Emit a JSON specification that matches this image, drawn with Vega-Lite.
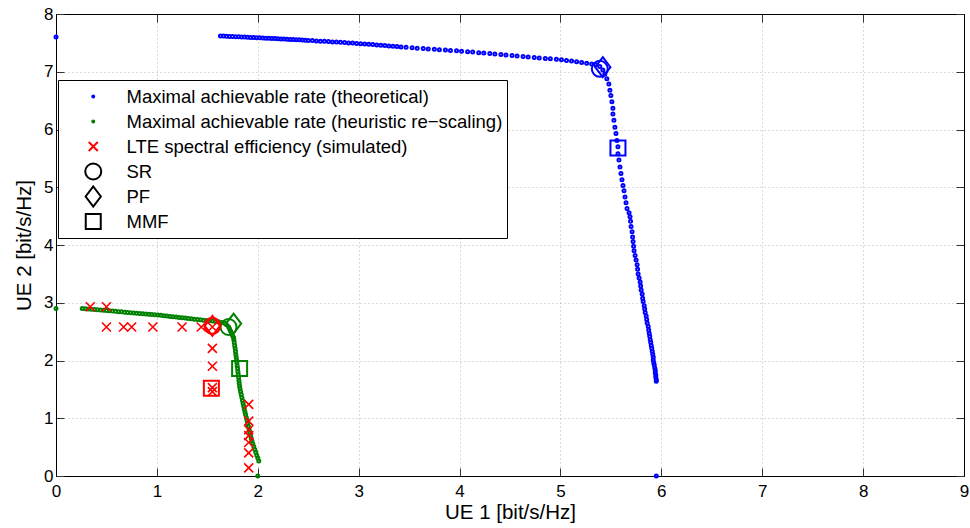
{
  "$schema": "https://vega.github.io/schema/vega-lite/v6.json",
  "width": 908,
  "height": 462,
  "autosize": {"type": "none"},
  "padding": {"left": 56, "top": 14, "right": 6, "bottom": 52},
  "background": "white",
  "config": {
    "view": {"stroke": "black", "strokeWidth": 1},
    "font": "Liberation Sans",
    "axis": {
      "domainColor": "black",
      "domainWidth": 1,
      "tickColor": "#333333",
      "tickSize": -8,
      "labelFont": "Liberation Sans",
      "labelFontSize": 17,
      "labelColor": "black",
      "labelFlush": false,
      "titleFont": "Liberation Sans",
      "titleFontSize": 20.5,
      "titleFontWeight": "normal",
      "titleColor": "black",
      "gridColor": "#b4b4b4",
      "gridDash": [1, 3],
      "gridWidth": 1
    },
    "legend": {
      "orient": "none",
      "legendX": 2,
      "legendY": 66,
      "strokeColor": "black",
      "strokeWidth": 1,
      "fillColor": "white",
      "padding": 4,
      "labelFont": "Liberation Sans",
      "labelFontSize": 18.5,
      "labelColor": "black",
      "labelLimit": 0,
      "clipHeight": 25,
      "rowPadding": 0,
      "symbolOffset": 22,
      "labelOffset": 24,
      "symbolStrokeWidth": 2,
      "cornerRadius": 0
    }
  },
  "resolve": {"axis": {"x": "independent", "y": "independent"}},
  "layer": [
    {
      "data": {"values": [
        {"s": "a", "x": 0, "y": 7.6}, {"s": "a", "x": 5.95, "y": 0},
        {"s": "a", "x": 1.63, "y": 7.62}, {"s": "a", "x": 1.66, "y": 7.617}, {"s": "a", "x": 1.69, "y": 7.615}, {"s": "a", "x": 1.72, "y": 7.612}, {"s": "a", "x": 1.75, "y": 7.61},
        {"s": "a", "x": 1.78, "y": 7.607}, {"s": "a", "x": 1.81, "y": 7.605}, {"s": "a", "x": 1.84, "y": 7.602}, {"s": "a", "x": 1.87, "y": 7.6}, {"s": "a", "x": 1.9, "y": 7.598},
        {"s": "a", "x": 1.93, "y": 7.595}, {"s": "a", "x": 1.96, "y": 7.593}, {"s": "a", "x": 1.99, "y": 7.59}, {"s": "a", "x": 2.02, "y": 7.588}, {"s": "a", "x": 2.05, "y": 7.585},
        {"s": "a", "x": 2.08, "y": 7.582}, {"s": "a", "x": 2.11, "y": 7.58}, {"s": "a", "x": 2.14, "y": 7.577}, {"s": "a", "x": 2.17, "y": 7.574}, {"s": "a", "x": 2.2, "y": 7.571},
        {"s": "a", "x": 2.23, "y": 7.569}, {"s": "a", "x": 2.26, "y": 7.566}, {"s": "a", "x": 2.29, "y": 7.563}, {"s": "a", "x": 2.32, "y": 7.56}, {"s": "a", "x": 2.35, "y": 7.558},
        {"s": "a", "x": 2.38, "y": 7.555}, {"s": "a", "x": 2.41, "y": 7.552}, {"s": "a", "x": 2.44, "y": 7.549}, {"s": "a", "x": 2.47, "y": 7.546}, {"s": "a", "x": 2.5, "y": 7.543},
        {"s": "a", "x": 2.54, "y": 7.539}, {"s": "a", "x": 2.58, "y": 7.534}, {"s": "a", "x": 2.62, "y": 7.53}, {"s": "a", "x": 2.66, "y": 7.526}, {"s": "a", "x": 2.7, "y": 7.522},
        {"s": "a", "x": 2.74, "y": 7.517}, {"s": "a", "x": 2.78, "y": 7.513}, {"s": "a", "x": 2.82, "y": 7.509}, {"s": "a", "x": 2.86, "y": 7.505}, {"s": "a", "x": 2.9, "y": 7.5},
        {"s": "a", "x": 2.94, "y": 7.496}, {"s": "a", "x": 2.98, "y": 7.491}, {"s": "a", "x": 3.02, "y": 7.487}, {"s": "a", "x": 3.06, "y": 7.481}, {"s": "a", "x": 3.1, "y": 7.476},
        {"s": "a", "x": 3.14, "y": 7.47}, {"s": "a", "x": 3.18, "y": 7.464}, {"s": "a", "x": 3.22, "y": 7.459}, {"s": "a", "x": 3.26, "y": 7.453}, {"s": "a", "x": 3.3, "y": 7.447},
        {"s": "a", "x": 3.34, "y": 7.441}, {"s": "a", "x": 3.38, "y": 7.436}, {"s": "a", "x": 3.42, "y": 7.43}, {"s": "a", "x": 3.47, "y": 7.423}, {"s": "a", "x": 3.53, "y": 7.415},
        {"s": "a", "x": 3.58, "y": 7.409}, {"s": "a", "x": 3.64, "y": 7.402}, {"s": "a", "x": 3.69, "y": 7.396}, {"s": "a", "x": 3.75, "y": 7.389}, {"s": "a", "x": 3.8, "y": 7.383},
        {"s": "a", "x": 3.86, "y": 7.376}, {"s": "a", "x": 3.91, "y": 7.37}, {"s": "a", "x": 3.97, "y": 7.364}, {"s": "a", "x": 4.02, "y": 7.357}, {"s": "a", "x": 4.08, "y": 7.348},
        {"s": "a", "x": 4.13, "y": 7.34}, {"s": "a", "x": 4.19, "y": 7.331}, {"s": "a", "x": 4.24, "y": 7.323}, {"s": "a", "x": 4.3, "y": 7.314}, {"s": "a", "x": 4.35, "y": 7.306},
        {"s": "a", "x": 4.41, "y": 7.297}, {"s": "a", "x": 4.46, "y": 7.289}, {"s": "a", "x": 4.52, "y": 7.28}, {"s": "a", "x": 4.57, "y": 7.273}, {"s": "a", "x": 4.63, "y": 7.263},
        {"s": "a", "x": 4.68, "y": 7.255}, {"s": "a", "x": 4.74, "y": 7.246}, {"s": "a", "x": 4.79, "y": 7.239}, {"s": "a", "x": 4.85, "y": 7.231}, {"s": "a", "x": 4.9, "y": 7.224},
        {"s": "a", "x": 4.96, "y": 7.216}, {"s": "a", "x": 5.01, "y": 7.207}, {"s": "a", "x": 5.06, "y": 7.196}, {"s": "a", "x": 5.11, "y": 7.184}, {"s": "a", "x": 5.16, "y": 7.172},
        {"s": "a", "x": 5.21, "y": 7.16}, {"s": "a", "x": 5.26, "y": 7.148}, {"s": "a", "x": 5.31, "y": 7.135}, {"s": "a", "x": 5.35, "y": 7.12}, {"s": "a", "x": 5.39, "y": 7.09},
        {"s": "a", "x": 5.42, "y": 7.03}, {"s": "a", "x": 5.44, "y": 6.96}, {"s": "a", "x": 5.46, "y": 6.88}, {"s": "a", "x": 5.48, "y": 6.79}, {"s": "a", "x": 5.49, "y": 6.68},
        {"s": "a", "x": 5.5, "y": 6.59}, {"s": "a", "x": 5.51, "y": 6.48}, {"s": "a", "x": 5.52, "y": 6.37}, {"s": "a", "x": 5.52, "y": 6.27}, {"s": "a", "x": 5.53, "y": 6.16},
        {"s": "a", "x": 5.54, "y": 6.04}, {"s": "a", "x": 5.55, "y": 5.93}, {"s": "a", "x": 5.56, "y": 5.81}, {"s": "a", "x": 5.57, "y": 5.7}, {"s": "a", "x": 5.57, "y": 5.58},
        {"s": "a", "x": 5.58, "y": 5.47}, {"s": "a", "x": 5.59, "y": 5.35}, {"s": "a", "x": 5.6, "y": 5.24}, {"s": "a", "x": 5.61, "y": 5.13}, {"s": "a", "x": 5.62, "y": 5.03},
        {"s": "a", "x": 5.63, "y": 4.94}, {"s": "a", "x": 5.64, "y": 4.83}, {"s": "a", "x": 5.65, "y": 4.73}, {"s": "a", "x": 5.66, "y": 4.63}, {"s": "a", "x": 5.68, "y": 4.56},
        {"s": "a", "x": 5.69, "y": 4.49}, {"s": "a", "x": 5.695, "y": 4.41}, {"s": "a", "x": 5.7, "y": 4.32}, {"s": "a", "x": 5.71, "y": 4.23}, {"s": "a", "x": 5.715, "y": 4.14},
        {"s": "a", "x": 5.72, "y": 4.06}, {"s": "a", "x": 5.725, "y": 3.98}, {"s": "a", "x": 5.73, "y": 3.9}, {"s": "a", "x": 5.74, "y": 3.82}, {"s": "a", "x": 5.75, "y": 3.74},
        {"s": "a", "x": 5.76, "y": 3.66}, {"s": "a", "x": 5.765, "y": 3.58}, {"s": "a", "x": 5.77, "y": 3.5}, {"s": "a", "x": 5.78, "y": 3.43}, {"s": "a", "x": 5.79, "y": 3.36},
        {"s": "a", "x": 5.795, "y": 3.29}, {"s": "a", "x": 5.8, "y": 3.22}, {"s": "a", "x": 5.81, "y": 3.15}, {"s": "a", "x": 5.815, "y": 3.08}, {"s": "a", "x": 5.82, "y": 3.02},
        {"s": "a", "x": 5.83, "y": 2.95}, {"s": "a", "x": 5.835, "y": 2.89}, {"s": "a", "x": 5.84, "y": 2.83}, {"s": "a", "x": 5.85, "y": 2.77}, {"s": "a", "x": 5.855, "y": 2.71},
        {"s": "a", "x": 5.86, "y": 2.65}, {"s": "a", "x": 5.87, "y": 2.59}, {"s": "a", "x": 5.875, "y": 2.53}, {"s": "a", "x": 5.88, "y": 2.47}, {"s": "a", "x": 5.885, "y": 2.42},
        {"s": "a", "x": 5.89, "y": 2.36}, {"s": "a", "x": 5.895, "y": 2.31}, {"s": "a", "x": 5.9, "y": 2.26}, {"s": "a", "x": 5.905, "y": 2.21}, {"s": "a", "x": 5.91, "y": 2.16},
        {"s": "a", "x": 5.915, "y": 2.11}, {"s": "a", "x": 5.92, "y": 2.06}, {"s": "a", "x": 5.92, "y": 2.01}, {"s": "a", "x": 5.925, "y": 1.96}, {"s": "a", "x": 5.93, "y": 1.92},
        {"s": "a", "x": 5.935, "y": 1.87}, {"s": "a", "x": 5.94, "y": 1.83}, {"s": "a", "x": 5.94, "y": 1.79}, {"s": "a", "x": 5.945, "y": 1.75}, {"s": "a", "x": 5.945, "y": 1.71},
        {"s": "a", "x": 5.95, "y": 1.67}, {"s": "a", "x": 5.95, "y": 1.64}
      ]},
      "mark": {"type": "point", "filled": false, "strokeWidth": 3, "opacity": 1},
      "encoding": {
        "x": {
          "field": "x", "type": "quantitative",
          "scale": {"domain": [0, 9], "nice": false, "zero": false},
          "axis": {"orient": "bottom", "values": [0, 1, 2, 3, 4, 5, 6, 7, 8, 9], "title": "UE 1 [bit/s/Hz]", "labelPadding": 15, "titlePadding": 3}
        },
        "y": {
          "field": "y", "type": "quantitative",
          "scale": {"domain": [0, 8], "nice": false, "zero": false},
          "axis": {"orient": "left", "values": [0, 1, 2, 3, 4, 5, 6, 7, 8], "title": "UE 2 [bit/s/Hz]", "labelPadding": 11, "titlePadding": 9}
        },
        "color": {
          "field": "s", "type": "nominal",
          "scale": {"domain": ["a", "b", "c", "SR", "PF", "MMF"], "range": ["#0000ff", "#008000", "#ff0000", "black", "black", "black"]},
          "legend": {
            "title": null,
            "labelExpr": "datum.label == 'a' ? 'Maximal achievable rate (theoretical)' : datum.label == 'b' ? 'Maximal achievable rate (heuristic re−scaling)' : datum.label == 'c' ? 'LTE spectral efficiency (simulated)' : datum.label",
            "encode": {"symbols": {"update": {"strokeWidth": {"value": 2}}}}
          }
        },
        "shape": {
          "field": "s", "type": "nominal",
          "scale": {"domain": ["a", "b", "c", "SR", "PF", "MMF"], "range": ["circle", "circle", "M-1,-1L1,1M-1,1L1,-1", "circle", "M0,-1.25L0.95,0L0,1.25L-0.95,0Z", "square"]},
          "legend": {
            "title": null,
            "labelExpr": "datum.label == 'a' ? 'Maximal achievable rate (theoretical)' : datum.label == 'b' ? 'Maximal achievable rate (heuristic re−scaling)' : datum.label == 'c' ? 'LTE spectral efficiency (simulated)' : datum.label"
          }
        },
        "size": {
          "field": "s", "type": "nominal",
          "scale": {"type": "ordinal", "domain": ["a", "b", "c", "SR", "PF", "MMF"], "range": [4, 4, 81, 256, 256, 225]},
          "legend": {
            "title": null,
            "labelExpr": "datum.label == 'a' ? 'Maximal achievable rate (theoretical)' : datum.label == 'b' ? 'Maximal achievable rate (heuristic re−scaling)' : datum.label == 'c' ? 'LTE spectral efficiency (simulated)' : datum.label"
          }
        }
      }
    },
    {
      "data": {"values": [
        {"s": "b", "x": 0, "y": 2.9}, {"s": "b", "x": 2.0, "y": 0},
        {"s": "b", "x": 0.26, "y": 2.9}, {"s": "b", "x": 0.29, "y": 2.896}, {"s": "b", "x": 0.32, "y": 2.891}, {"s": "b", "x": 0.35, "y": 2.887}, {"s": "b", "x": 0.38, "y": 2.882},
        {"s": "b", "x": 0.41, "y": 2.878}, {"s": "b", "x": 0.44, "y": 2.873}, {"s": "b", "x": 0.47, "y": 2.869}, {"s": "b", "x": 0.5, "y": 2.864}, {"s": "b", "x": 0.53, "y": 2.86},
        {"s": "b", "x": 0.56, "y": 2.855}, {"s": "b", "x": 0.59, "y": 2.851}, {"s": "b", "x": 0.62, "y": 2.846}, {"s": "b", "x": 0.65, "y": 2.842}, {"s": "b", "x": 0.68, "y": 2.837},
        {"s": "b", "x": 0.71, "y": 2.833}, {"s": "b", "x": 0.74, "y": 2.828}, {"s": "b", "x": 0.77, "y": 2.824}, {"s": "b", "x": 0.8, "y": 2.819}, {"s": "b", "x": 0.83, "y": 2.815},
        {"s": "b", "x": 0.86, "y": 2.81}, {"s": "b", "x": 0.89, "y": 2.806}, {"s": "b", "x": 0.92, "y": 2.801}, {"s": "b", "x": 0.95, "y": 2.797}, {"s": "b", "x": 0.98, "y": 2.792},
        {"s": "b", "x": 1.01, "y": 2.788}, {"s": "b", "x": 1.04, "y": 2.782}, {"s": "b", "x": 1.07, "y": 2.776}, {"s": "b", "x": 1.1, "y": 2.77}, {"s": "b", "x": 1.13, "y": 2.764},
        {"s": "b", "x": 1.16, "y": 2.758}, {"s": "b", "x": 1.19, "y": 2.752}, {"s": "b", "x": 1.22, "y": 2.746}, {"s": "b", "x": 1.25, "y": 2.74}, {"s": "b", "x": 1.28, "y": 2.734},
        {"s": "b", "x": 1.31, "y": 2.728}, {"s": "b", "x": 1.34, "y": 2.722}, {"s": "b", "x": 1.37, "y": 2.716}, {"s": "b", "x": 1.4, "y": 2.71}, {"s": "b", "x": 1.43, "y": 2.704},
        {"s": "b", "x": 1.46, "y": 2.698}, {"s": "b", "x": 1.49, "y": 2.693}, {"s": "b", "x": 1.52, "y": 2.688}, {"s": "b", "x": 1.55, "y": 2.683}, {"s": "b", "x": 1.58, "y": 2.677},
        {"s": "b", "x": 1.61, "y": 2.67}, {"s": "b", "x": 1.64, "y": 2.66}, {"s": "b", "x": 1.67, "y": 2.645}, {"s": "b", "x": 1.69, "y": 2.62}, {"s": "b", "x": 1.71, "y": 2.585},
        {"s": "b", "x": 1.72, "y": 2.55}, {"s": "b", "x": 1.73, "y": 2.51}, {"s": "b", "x": 1.74, "y": 2.47}, {"s": "b", "x": 1.75, "y": 2.43}, {"s": "b", "x": 1.76, "y": 2.4},
        {"s": "b", "x": 1.763, "y": 2.36}, {"s": "b", "x": 1.767, "y": 2.31}, {"s": "b", "x": 1.771, "y": 2.26}, {"s": "b", "x": 1.775, "y": 2.21}, {"s": "b", "x": 1.779, "y": 2.16},
        {"s": "b", "x": 1.782, "y": 2.11}, {"s": "b", "x": 1.786, "y": 2.06}, {"s": "b", "x": 1.79, "y": 2.01}, {"s": "b", "x": 1.793, "y": 1.96}, {"s": "b", "x": 1.796, "y": 1.91},
        {"s": "b", "x": 1.8, "y": 1.86}, {"s": "b", "x": 1.803, "y": 1.81}, {"s": "b", "x": 1.806, "y": 1.76}, {"s": "b", "x": 1.81, "y": 1.71}, {"s": "b", "x": 1.813, "y": 1.66},
        {"s": "b", "x": 1.816, "y": 1.61}, {"s": "b", "x": 1.82, "y": 1.56}, {"s": "b", "x": 1.824, "y": 1.51}, {"s": "b", "x": 1.83, "y": 1.46}, {"s": "b", "x": 1.836, "y": 1.41},
        {"s": "b", "x": 1.842, "y": 1.36}, {"s": "b", "x": 1.848, "y": 1.31}, {"s": "b", "x": 1.854, "y": 1.26}, {"s": "b", "x": 1.86, "y": 1.21}, {"s": "b", "x": 1.866, "y": 1.16},
        {"s": "b", "x": 1.873, "y": 1.11}, {"s": "b", "x": 1.88, "y": 1.06}, {"s": "b", "x": 1.887, "y": 1.01}, {"s": "b", "x": 1.894, "y": 0.96}, {"s": "b", "x": 1.9, "y": 0.91},
        {"s": "b", "x": 1.907, "y": 0.86}, {"s": "b", "x": 1.914, "y": 0.81}, {"s": "b", "x": 1.92, "y": 0.76}, {"s": "b", "x": 1.927, "y": 0.71}, {"s": "b", "x": 1.934, "y": 0.66},
        {"s": "b", "x": 1.942, "y": 0.61}, {"s": "b", "x": 1.951, "y": 0.56}, {"s": "b", "x": 1.961, "y": 0.51}, {"s": "b", "x": 1.97, "y": 0.46}, {"s": "b", "x": 1.98, "y": 0.41},
        {"s": "b", "x": 1.99, "y": 0.36}, {"s": "b", "x": 2.0, "y": 0.31}, {"s": "b", "x": 2.01, "y": 0.26}
      ]},
      "mark": {"type": "point", "filled": false, "strokeWidth": 3, "opacity": 1},
      "encoding": {
        "x": {"field": "x", "type": "quantitative", "axis": null},
        "y": {"field": "y", "type": "quantitative", "axis": null},
        "color": {"field": "s", "type": "nominal", "scale": {"domain": ["a", "b", "c", "SR", "PF", "MMF"], "range": ["#0000ff", "#008000", "#ff0000", "black", "black", "black"]}},
        "shape": {"field": "s", "type": "nominal", "scale": {"domain": ["a", "b", "c", "SR", "PF", "MMF"], "range": ["circle", "circle", "M-1,-1L1,1M-1,1L1,-1", "circle", "M0,-1.25L0.95,0L0,1.25L-0.95,0Z", "square"]}},
        "size": {"field": "s", "type": "nominal", "scale": {"type": "ordinal", "domain": ["a", "b", "c", "SR", "PF", "MMF"], "range": [4, 4, 81, 256, 256, 225]}}
      }
    },
    {
      "data": {"values": [
        {"s": "c", "x": 0.34, "y": 2.93}, {"s": "c", "x": 0.5, "y": 2.93},
        {"s": "c", "x": 0.5, "y": 2.58}, {"s": "c", "x": 0.67, "y": 2.58}, {"s": "c", "x": 0.75, "y": 2.58}, {"s": "c", "x": 0.96, "y": 2.58},
        {"s": "c", "x": 1.25, "y": 2.58}, {"s": "c", "x": 1.44, "y": 2.58}, {"s": "c", "x": 1.55, "y": 2.58},
        {"s": "c", "x": 1.55, "y": 2.21}, {"s": "c", "x": 1.55, "y": 1.9}, {"s": "c", "x": 1.55, "y": 1.53}, {"s": "c", "x": 1.55, "y": 1.46},
        {"s": "c", "x": 1.91, "y": 1.24}, {"s": "c", "x": 1.91, "y": 0.95}, {"s": "c", "x": 1.91, "y": 0.8}, {"s": "c", "x": 1.91, "y": 0.7},
        {"s": "c", "x": 1.91, "y": 0.58}, {"s": "c", "x": 1.91, "y": 0.4}, {"s": "c", "x": 1.91, "y": 0.14}
      ]},
      "mark": {"type": "point", "filled": false, "strokeWidth": 1.6, "opacity": 1},
      "encoding": {
        "x": {"field": "x", "type": "quantitative", "axis": null},
        "y": {"field": "y", "type": "quantitative", "axis": null},
        "color": {"field": "s", "type": "nominal", "scale": {"domain": ["a", "b", "c", "SR", "PF", "MMF"], "range": ["#0000ff", "#008000", "#ff0000", "black", "black", "black"]}},
        "shape": {"field": "s", "type": "nominal", "scale": {"domain": ["a", "b", "c", "SR", "PF", "MMF"], "range": ["circle", "circle", "M-1,-1L1,1M-1,1L1,-1", "circle", "M0,-1.25L0.95,0L0,1.25L-0.95,0Z", "square"]}},
        "size": {"field": "s", "type": "nominal", "scale": {"type": "ordinal", "domain": ["a", "b", "c", "SR", "PF", "MMF"], "range": [4, 4, 81, 256, 256, 225]}}
      }
    },
    {
      "data": {"values": [
        {"c": "theo", "s": "SR", "x": 5.39, "y": 7.05},
        {"c": "theo", "s": "PF", "x": 5.42, "y": 7.08},
        {"c": "theo", "s": "MMF", "x": 5.57, "y": 5.68},
        {"c": "heur", "s": "SR", "x": 1.71, "y": 2.58},
        {"c": "heur", "s": "PF", "x": 1.76, "y": 2.64},
        {"c": "heur", "s": "MMF", "x": 1.82, "y": 1.86},
        {"c": "lte", "s": "SR", "x": 1.55, "y": 2.6},
        {"c": "lte", "s": "PF", "x": 1.55, "y": 2.6},
        {"c": "lte", "s": "MMF", "x": 1.54, "y": 1.52}
      ]},
      "mark": {"type": "point", "filled": false, "strokeWidth": 2, "opacity": 1},
      "encoding": {
        "x": {"field": "x", "type": "quantitative", "axis": null},
        "y": {"field": "y", "type": "quantitative", "axis": null},
        "color": {"field": "s", "type": "nominal", "scale": {"domain": ["a", "b", "c", "SR", "PF", "MMF"], "range": ["#0000ff", "#008000", "#ff0000", "black", "black", "black"]}},
        "shape": {"field": "s", "type": "nominal", "scale": {"domain": ["a", "b", "c", "SR", "PF", "MMF"], "range": ["circle", "circle", "M-1,-1L1,1M-1,1L1,-1", "circle", "M0,-1.25L0.95,0L0,1.25L-0.95,0Z", "square"]}},
        "size": {"field": "s", "type": "nominal", "scale": {"type": "ordinal", "domain": ["a", "b", "c", "SR", "PF", "MMF"], "range": [4, 4, 81, 256, 256, 225]}},
        "stroke": {
          "field": "c", "type": "nominal",
          "scale": {"domain": ["theo", "heur", "lte"], "range": ["#0000ff", "#008000", "#ff0000"]},
          "legend": null
        }
      }
    },
    {
      "data": {"values": [{"x": 0, "y": 0}]},
      "mark": {"type": "point", "opacity": 0},
      "encoding": {
        "x": {"field": "x", "type": "quantitative", "axis": {"orient": "top", "values": [0, 1, 2, 3, 4, 5, 6, 7, 8, 9], "labels": false, "grid": false, "title": null}},
        "y": {"field": "y", "type": "quantitative", "axis": {"orient": "right", "values": [0, 1, 2, 3, 4, 5, 6, 7, 8], "labels": false, "grid": false, "title": null}}
      }
    }
  ]
}
